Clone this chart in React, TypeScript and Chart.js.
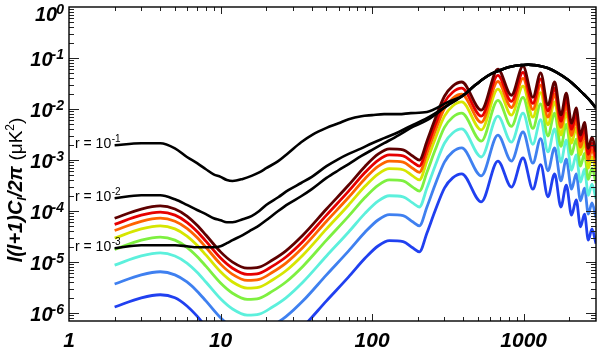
import React, { useEffect, useRef } from "react";
import { Chart, registerables } from "chart.js";

Chart.register(...registerables);

// ---------- data (stored as log10 of l(l+1)C_l/2pi in uK^2) ----------
const ellBlack = [2, 3, 4, 5, 6, 7, 8, 9, 10, 11, 12, 14, 16, 18, 20, 24, 28, 34, 40, 50, 60, 70, 85, 100, 120, 150, 180, 230, 318, 400, 471, 540, 610, 700, 791, 880, 965, 1070, 1175, 1300, 1454, 1650, 1972, 2250, 2513, 2750, 3000];

const logR1e1 = [-2.71, -2.67, -2.67, -2.77, -2.94, -3.06, -3.18, -3.28, -3.33, -3.39, -3.41, -3.37, -3.31, -3.24, -3.16, -3.02, -2.86, -2.65, -2.51, -2.37, -2.28, -2.2, -2.14, -2.12, -2.1, -2.1, -2.08, -2.06, -1.86, -1.73, -1.55, -1.41, -1.31, -1.24, -1.18, -1.15, -1.14, -1.13, -1.14, -1.16, -1.2, -1.28, -1.43, -1.58, -1.72, -1.84, -1.98];
const logR1e2 = [-3.75, -3.69, -3.69, -3.77, -3.88, -3.98, -4.06, -4.14, -4.18, -4.22, -4.22, -4.16, -4.1, -4.0, -3.88, -3.73, -3.59, -3.45, -3.33, -3.12, -2.98, -2.88, -2.77, -2.67, -2.57, -2.45, -2.33, -2.18, -1.92, -1.73, -1.55, -1.41, -1.31, -1.24, -1.18, -1.15, -1.14, -1.13, -1.14, -1.16, -1.2, -1.28, -1.43, -1.58, -1.72, -1.84, -1.98];
const logR1e3 = [-4.73, -4.67, -4.67, -4.67, -4.69, -4.71, -4.71, -4.71, -4.69, -4.63, -4.57, -4.47, -4.37, -4.28, -4.18, -4.0, -3.86, -3.71, -3.57, -3.35, -3.2, -3.08, -2.92, -2.8, -2.67, -2.51, -2.37, -2.22, -1.92, -1.73, -1.55, -1.41, -1.31, -1.24, -1.18, -1.15, -1.14, -1.13, -1.14, -1.16, -1.2, -1.28, -1.43, -1.58, -1.72, -1.84, -1.98];

const ellColor = [2, 3, 4, 5, 6, 7, 8, 10, 12, 15, 18, 22, 27, 35, 50, 70, 90, 110, 130, 160, 185, 205, 230, 260, 300, 340, 390, 525, 676, 830, 990, 1150, 1294, 1446, 1600, 1760, 1910, 2070, 2220, 2370, 2520, 2670, 2820, 3000];

const logC1 = [-4.14, -3.96, -3.9, -3.96, -4.1, -4.28, -4.47, -4.8, -5.0, -5.12, -5.1, -4.96, -4.78, -4.47, -3.96, -3.49, -3.12, -2.88, -2.78, -2.8, -2.92, -3.0, -2.63, -2.2, -1.75, -1.55, -1.47, -2.02, -1.22, -1.73, -1.16, -1.77, -1.29, -1.92, -1.47, -2.12, -1.69, -2.28, -1.98, -2.51, -2.26, -2.77, -2.55, -2.84];
const logC2 = [-4.26, -4.08, -4.02, -4.08, -4.22, -4.4, -4.59, -4.92, -5.12, -5.24, -5.22, -5.08, -4.9, -4.59, -4.08, -3.61, -3.24, -3.0, -2.9, -2.92, -3.04, -3.12, -2.75, -2.32, -1.87, -1.67, -1.59, -2.14, -1.34, -1.85, -1.28, -1.89, -1.41, -2.04, -1.59, -2.24, -1.81, -2.4, -2.1, -2.63, -2.38, -2.89, -2.67, -2.96];
const logC3 = [-4.38, -4.2, -4.14, -4.2, -4.34, -4.52, -4.71, -5.04, -5.24, -5.36, -5.34, -5.2, -5.02, -4.71, -4.2, -3.73, -3.36, -3.12, -3.02, -3.04, -3.16, -3.24, -2.87, -2.44, -1.99, -1.79, -1.71, -2.26, -1.46, -1.97, -1.4, -2.01, -1.53, -2.16, -1.71, -2.36, -1.93, -2.52, -2.22, -2.75, -2.5, -3.01, -2.79, -3.08];
const logC4 = [-4.53, -4.35, -4.29, -4.35, -4.49, -4.67, -4.86, -5.19, -5.39, -5.51, -5.49, -5.35, -5.17, -4.86, -4.35, -3.88, -3.51, -3.27, -3.17, -3.19, -3.31, -3.39, -3.02, -2.59, -2.14, -1.94, -1.86, -2.41, -1.61, -2.12, -1.55, -2.16, -1.68, -2.31, -1.86, -2.51, -2.08, -2.67, -2.37, -2.9, -2.65, -3.16, -2.94, -3.23];
const logC5 = [-4.75, -4.57, -4.51, -4.57, -4.71, -4.89, -5.08, -5.41, -5.61, -5.73, -5.71, -5.57, -5.39, -5.08, -4.57, -4.1, -3.73, -3.49, -3.39, -3.41, -3.53, -3.61, -3.24, -2.81, -2.36, -2.16, -2.08, -2.63, -1.83, -2.34, -1.77, -2.38, -1.9, -2.53, -2.08, -2.73, -2.3, -2.89, -2.59, -3.12, -2.87, -3.38, -3.16, -3.45];
const logC6 = [-5.06, -4.88, -4.82, -4.88, -5.02, -5.2, -5.39, -5.72, -5.92, -6.04, -6.02, -5.88, -5.7, -5.39, -4.88, -4.41, -4.04, -3.8, -3.7, -3.72, -3.84, -3.92, -3.55, -3.12, -2.67, -2.47, -2.39, -2.94, -2.14, -2.65, -2.08, -2.69, -2.21, -2.84, -2.39, -3.04, -2.61, -3.2, -2.9, -3.43, -3.18, -3.69, -3.47, -3.76];
const logC7 = [-5.43, -5.25, -5.19, -5.25, -5.39, -5.57, -5.76, -6.09, -6.29, -6.41, -6.39, -6.25, -6.07, -5.76, -5.25, -4.78, -4.41, -4.17, -4.07, -4.09, -4.21, -4.29, -3.92, -3.49, -3.04, -2.84, -2.76, -3.31, -2.51, -3.02, -2.45, -3.06, -2.58, -3.21, -2.76, -3.41, -2.98, -3.57, -3.27, -3.8, -3.55, -4.06, -3.84, -4.13];
const logC8 = [-5.88, -5.7, -5.64, -5.7, -5.86, -6.06, -6.27, -6.6, -6.8, -6.92, -6.9, -6.76, -6.58, -6.27, -5.76, -5.29, -4.92, -4.68, -4.58, -4.6, -4.72, -4.8, -4.43, -4.0, -3.55, -3.35, -3.27, -3.82, -3.02, -3.53, -2.96, -3.57, -3.09, -3.72, -3.27, -3.92, -3.49, -4.08, -3.78, -4.31, -4.06, -4.57, -4.35, -4.64];

const colorSeries = [logC1, logC2, logC3, logC4, logC5, logC6, logC7, logC8];
const colorList = ["#5e0000", "#e60000", "#ff6400", "#d6e600", "#7ef040", "#5cf0dc", "#3f80f0", "#2040f0"];

const blackSeries = [logR1e1, logR1e2, logR1e3];
const rExponents = ["-1", "-2", "-3"];

const xTickValues = [1, 10, 100, 1000];
const xTickLabels = ["1", "10", "100", "1000"];
const yTickValues = [1, 1e-1, 1e-2, 1e-3, 1e-4, 1e-5, 1e-6];
const yTickBase = "10";
const yTickExponents = ["0", "-1", "-2", "-3", "-4", "-5", "-6"];

const X_MIN = 1;
const X_MAX = 3000;
const Y_MIN = 7e-7;
const Y_MAX = 1;

const FONT = '"Liberation Sans", Arial, Helvetica, sans-serif';

const toPoints = (ells: number[], logs: number[]) =>
  ells.map((l, i) => ({ x: l, y: Math.pow(10, logs[i]) }));

const boxPlugin = {
  id: "boxTicks",
  afterDatasetsDraw(chart: any) {
    const { ctx, chartArea: a, scales } = chart;
    const xs = scales.x;
    const ys = scales.y;
    ctx.save();
    // inward ticks
    ctx.strokeStyle = "#222";
    ctx.lineWidth = 1;
    const seg = (x1: number, y1: number, x2: number, y2: number) => {
      ctx.beginPath();
      ctx.moveTo(x1, y1);
      ctx.lineTo(x2, y2);
      ctx.stroke();
    };
    for (let e = 0; e <= 4; e++) {
      for (let m = 1; m <= 9; m++) {
        const v = m * Math.pow(10, e);
        if (v <= xs.min || v >= xs.max) continue;
        const p = Math.round(xs.getPixelForValue(v)) + 0.5;
        const len = m === 1 ? 7 : 4;
        seg(p, a.bottom, p, a.bottom - len);
        seg(p, a.top, p, a.top + len);
      }
    }
    for (let e = -7; e <= 0; e++) {
      for (let m = 1; m <= 9; m++) {
        const v = m * Math.pow(10, e);
        if (v <= ys.min || v >= ys.max) continue;
        const p = Math.round(ys.getPixelForValue(v)) + 0.5;
        const len = m === 1 ? 10 : 5;
        seg(a.left, p, a.left + len, p);
        seg(a.right, p, a.right - len, p);
      }
    }
    // frame
    ctx.strokeStyle = "#000";
    ctx.lineWidth = 1.4;
    ctx.strokeRect(a.left, a.top, a.right - a.left, a.bottom - a.top);

    // y tick labels: 10 with raised exponent
    ctx.fillStyle = "#000";
    ctx.textAlign = "right";
    ctx.textBaseline = "alphabetic";
    const R = a.left - 5;
    yTickValues.forEach((v, i) => {
      const py = ys.getPixelForValue(v);
      const base = Math.max(py + 7.5, 21);
      ctx.font = "italic bold 14px " + FONT;
      const sw = ctx.measureText(yTickExponents[i]).width;
      ctx.fillText(yTickExponents[i], R, base - 7);
      ctx.font = "italic bold 20px " + FONT;
      ctx.fillText(yTickBase, R - sw + 1, base);
    });

    // r = 10^-n annotations at the start of the black curves
    blackSeries.forEach((s, i) => {
      const y = ys.getPixelForValue(Math.pow(10, s[0])) - 1;
      const x0 = a.left + 6;
      ctx.font = "14px " + FONT;
      ctx.textBaseline = "middle";
      ctx.textAlign = "left";
      ctx.fillText("r = 10", x0, y);
      const w = ctx.measureText("r = 10").width;
      ctx.font = "10px " + FONT;
      ctx.fillText(rExponents[i], x0 + w + 0.5, y - 5);
    });

    // y-axis title (rotated)
    const runs = [
      { t: "l(l+1)C", f: "italic bold 20px " + FONT, dy: 0 },
      { t: "l", f: "italic bold 13px " + FONT, dy: 4 },
      { t: "/2\u03C0 ", f: "italic bold 20px " + FONT, dy: 0 },
      { t: "(\u03BCK", f: "19px " + FONT, dy: 0 },
      { t: "2", f: "12px " + FONT, dy: -8 },
      { t: ")", f: "19px " + FONT, dy: 0 },
    ];
    let total = 0;
    const widths = runs.map((r) => {
      ctx.font = r.f;
      const w = ctx.measureText(r.t).width;
      total += w;
      return w;
    });
    ctx.translate(22, (a.top + a.bottom) / 2 + 26);
    ctx.rotate(-Math.PI / 2);
    ctx.textBaseline = "alphabetic";
    ctx.textAlign = "left";
    let cx = -total / 2;
    runs.forEach((r, i) => {
      ctx.font = r.f;
      ctx.fillText(r.t, cx, r.dy);
      cx += widths[i];
    });
    ctx.restore();
  },
};

export default function App() {
  const ref = useRef<HTMLCanvasElement | null>(null);

  useEffect(() => {
    const canvas = ref.current;
    if (!canvas) return;

    const datasets: any[] = [];
    blackSeries.forEach((s) => {
      datasets.push({
        data: toPoints(ellBlack, s),
        borderColor: "#000",
        borderWidth: 2.6,
        pointRadius: 0,
        fill: false,
        order: 0,
        borderJoinStyle: "round",
      });
    });
    colorSeries.forEach((s, i) => {
      datasets.push({
        data: toPoints(ellColor, s),
        borderColor: colorList[i],
        borderWidth: 2.8,
        pointRadius: 0,
        fill: false,
        order: 1 + i,
        borderJoinStyle: "round",
      });
    });

    const tickFontX = { family: FONT, size: 21, weight: "bold", style: "italic" };

    const chart = new Chart(canvas, {
      type: "line",
      data: { datasets },
      options: {
        responsive: false,
        animation: false,
        devicePixelRatio: 1,
        layout: { padding: { top: 7, right: 2, left: 0, bottom: 0 } },
        plugins: { legend: { display: false }, tooltip: { enabled: false } },
        elements: { point: { radius: 0 }, line: { cubicInterpolationMode: "monotone" } },
        scales: {
          x: {
            type: "logarithmic",
            min: X_MIN,
            max: X_MAX,
            grid: { display: false, drawTicks: false },
            border: { display: false },
            afterBuildTicks: (s: any) => {
              s.ticks = xTickValues.map((v) => ({ value: v }));
            },
            afterFit: (s: any) => {
              s.height = 28;
              s.paddingLeft = 0;
              s.paddingRight = 0;
            },
            ticks: {
              autoSkip: false,
              maxRotation: 0,
              minRotation: 0,
              padding: 8,
              color: "#000",
              font: tickFontX as any,
              callback: (_v: any, i: number) => xTickLabels[i],
            },
          },
          y: {
            type: "logarithmic",
            min: Y_MIN,
            max: Y_MAX,
            grid: { display: false, drawTicks: false },
            border: { display: false },
            afterBuildTicks: (s: any) => {
              s.ticks = yTickValues.map((v) => ({ value: v }));
            },
            afterFit: (s: any) => {
              s.width = 69;
              s.paddingTop = 0;
              s.paddingBottom = 0;
            },
            ticks: { display: false },
          },
        },
      } as any,
      plugins: [boxPlugin],
    });
    return () => chart.destroy();
  }, []);

  return (
    <div style={{ position: "absolute", left: 0, top: 0, width: 598, height: 349, background: "#fff" }}>
      <canvas ref={ref} width={598} height={349} style={{ display: "block", width: 598, height: 349 }} />
    </div>
  );
}
